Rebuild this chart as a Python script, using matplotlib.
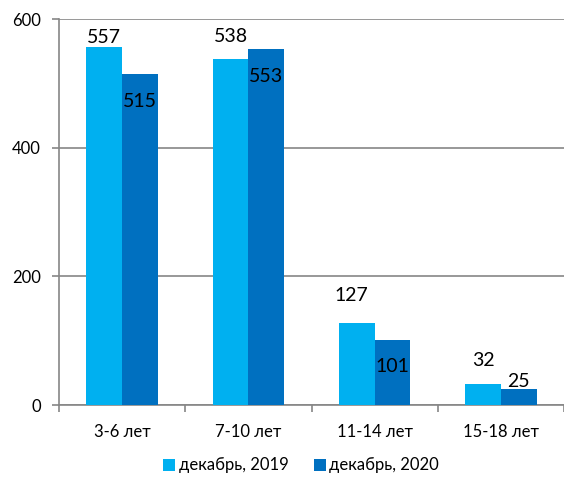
import numpy as np
import matplotlib.pyplot as plt

plt.rcParams['font.family'] = ['Lato', 'DejaVu Sans']

categories = ["3-6 лет", "7-10 лет", "11-14 лет", "15-18 лет"]
series_names = ["декабрь, 2019", "декабрь, 2020"]
values_2019 = [557, 538, 127, 32]
values_2020 = [515, 553, 101, 25]

colors = ["#00B0F0", "#0070C0"]
grid_color = "#868686"
# label offsets from bar top-centre, in pixels (hand-placed in the original)
offs_2019 = [(0, 4), (0, 17), (-5, 22), (0, 18)]
offs_2020 = [(0, -33), (0, -33), (0, -32), (0, 2)]

fig = plt.figure(figsize=(5.64, 4.86), dpi=100)
ax = fig.add_axes([59 / 564, 1 - 405 / 486, 1 - 59 / 564, (405 - 19) / 486])

x = np.arange(len(categories))
w = 0.283
b1 = ax.bar(x - w / 2, values_2019, w, color=colors[0], label=series_names[0], zorder=3)
b2 = ax.bar(x + w / 2, values_2020, w, color=colors[1], label=series_names[1], zorder=3)

for bars, vals, offs in ((b1, values_2019, offs_2019), (b2, values_2020, offs_2020)):
    for r, v, (dx, dy) in zip(bars, vals, offs):
        ax.annotate(str(v), (r.get_x() + r.get_width() / 2, r.get_height()),
                    xytext=(dx, dy), textcoords="offset pixels",
                    ha="center", va="baseline", fontsize=14, color="black", zorder=4)

ax.set_ylim(0, 600)
ax.set_xlim(-0.5, -0.5 + (564 - 59) / 128)
ax.set_yticks([0, 200, 400, 600])
ax.yaxis.grid(True, color=grid_color, linewidth=1.2, zorder=0)
ax.set_axisbelow(True)

ax.set_xticks(x)
ax.set_xticklabels(categories, fontsize=12)
ax.set_xticks(np.arange(len(categories) + 1) - 0.5, minor=True)
ax.tick_params(axis="x", which="major", length=0, pad=14)
ax.tick_params(axis="x", which="minor", length=5, color=grid_color, width=1.2)
ax.tick_params(axis="y", length=5, color=grid_color, width=1.2, labelsize=12, pad=8)

for s in ("top", "right"):
    ax.spines[s].set_visible(False)
for s in ("left", "bottom"):
    ax.spines[s].set_color(grid_color)
    ax.spines[s].set_linewidth(1.2)

fig.legend(loc="lower center", bbox_to_anchor=(301 / 564, -0.005), ncol=2, frameon=False,
           fontsize=12, handlelength=0.75, handleheight=0.75, handletextpad=0.2,
           columnspacing=1.5)

fig.savefig("out.png", dpi=100)
